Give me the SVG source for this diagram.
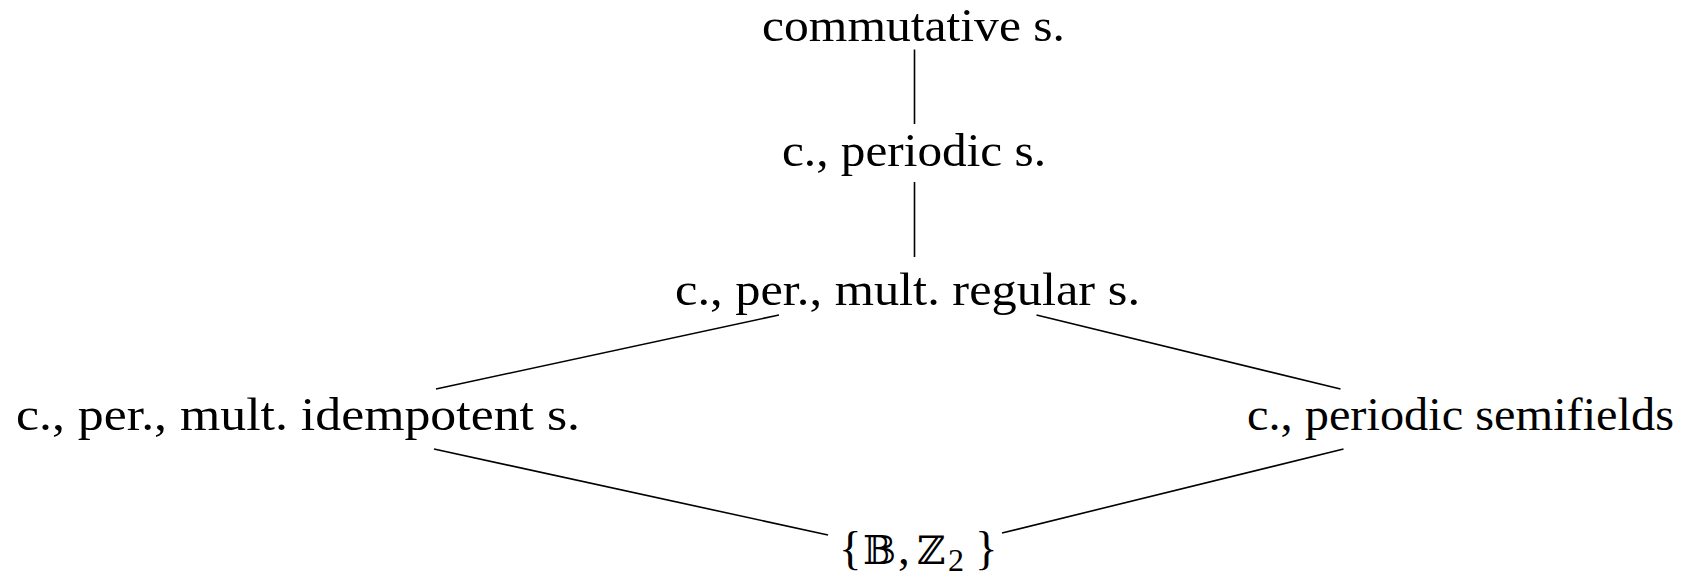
<svg xmlns="http://www.w3.org/2000/svg" width="1691" height="581" viewBox="0 0 1691 581">
<style>
  .t { font-family: "Liberation Serif", "DejaVu Serif", serif; font-size: 47px; fill: #000; }
  .m { font-family: "DejaVu Serif", "DejaVu Sans", "Liberation Serif", serif; font-size: 39px; }
  .sub { font-size: 32px; }
  .e { stroke: #000; stroke-width: 1.6; fill: none; stroke-linecap: butt; }
</style>
<rect width="1691" height="581" fill="#fff"/>
<g id="connectors">
  <line class="e" x1="914.5" y1="49.5" x2="914.5" y2="124"/>
  <line class="e" x1="914.5" y1="182" x2="914.5" y2="257"/>
  <line class="e" x1="779" y1="315" x2="436" y2="389"/>
  <line class="e" x1="1036.5" y1="315" x2="1340.5" y2="389"/>
  <line class="e" x1="434" y1="449" x2="828" y2="535"/>
  <line class="e" x1="1343.5" y1="449" x2="1002" y2="533"/>
</g>
<g id="n-commutative">
  <text class="t" x="762" y="41" textLength="303" lengthAdjust="spacingAndGlyphs">commutative s.</text>
</g>
<g id="n-periodic">
  <text class="t" x="782" y="166" textLength="264" lengthAdjust="spacingAndGlyphs">c., periodic s.</text>
</g>
<g id="n-regular">
  <text class="t" x="675" y="305" textLength="465" lengthAdjust="spacingAndGlyphs">c., per., mult. regular s.</text>
</g>
<g id="n-idempotent">
  <text class="t" x="16" y="430" textLength="564" lengthAdjust="spacingAndGlyphs">c., per., mult. idempotent s.</text>
</g>
<g id="n-semifields">
  <text class="t" x="1247" y="430" textLength="427" lengthAdjust="spacingAndGlyphs">c., periodic semifields</text>
</g>
<g id="n-bz2">
  <text class="t" x="839" y="564">{</text>
  <text class="t m" x="863" y="564">𝔹</text>
  <text class="t" x="898" y="564">,</text>
  <text class="t m" x="917" y="564">ℤ</text>
  <text class="t sub" x="948" y="571">2</text>
  <text class="t" x="975" y="564">}</text>
</g>
</svg>
